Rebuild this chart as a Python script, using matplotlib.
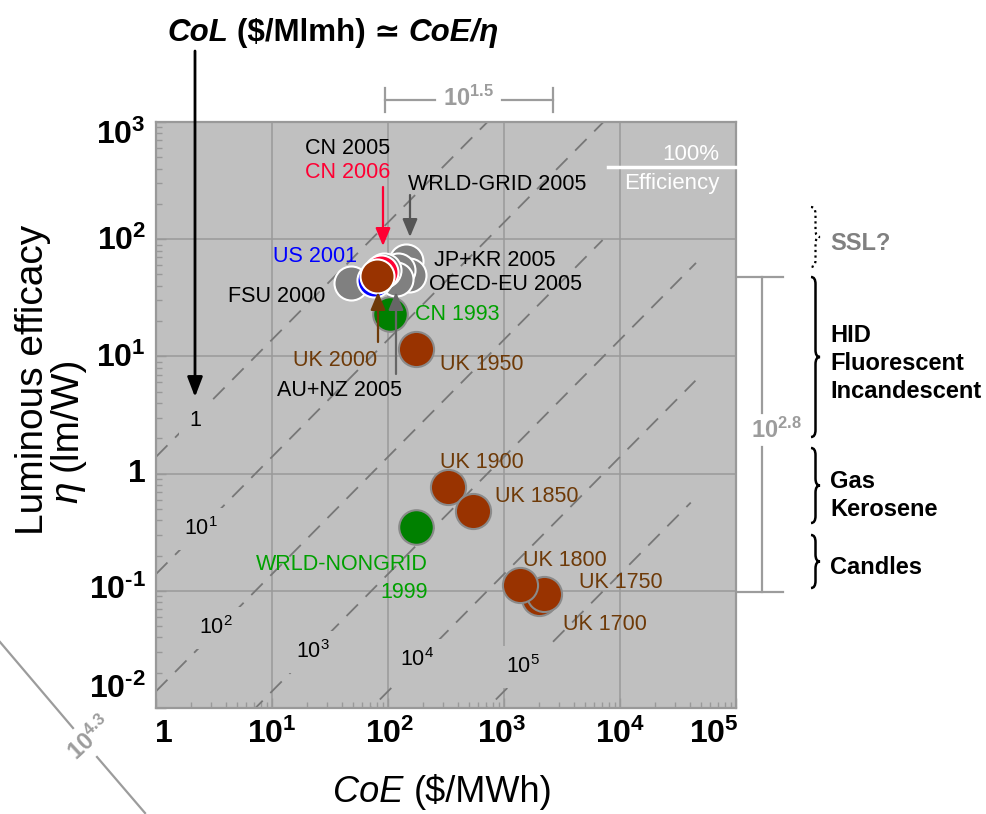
import numpy as np
import matplotlib
matplotlib.use("Agg")
import matplotlib.pyplot as plt
from matplotlib.path import Path
from matplotlib.patches import PathPatch
from matplotlib.transforms import ScaledTranslation, blended_transform_factory

plt.rcParams['font.family'] = ['Liberation Sans', 'DejaVu Sans']
plt.rcParams['mathtext.fontset'] = 'custom'
plt.rcParams['mathtext.rm'] = 'Liberation Sans'
plt.rcParams['mathtext.it'] = 'Liberation Sans:italic'
plt.rcParams['mathtext.bf'] = 'Liberation Sans:bold'

# ---------------- data ----------------
names = ['UK 1950', 'CN 1993', 'JP+KR 2005', 'OECD-EU 2005', 'WRLD-GRID 2005',
         'AU+NZ 2005', 'FSU 2000', 'CN 2005', 'CN 2006', 'US 2001', 'UK 2000',
         'UK 1900', 'UK 1850', 'WRLD-NONGRID 1999', 'UK 1700', 'UK 1750', 'UK 1800']
coe = [174, 104, 143, 153, 122, 117, 48, 92, 87, 75, 81,
       330, 541, 174, 1986, 2193, 1365]
eta = [11.6, 22.8, 64.7, 49.2, 54.6, 46.1, 42.6, 54.6, 52.0, 44.5, 48.6,
       0.766, 0.479, 0.351, 0.0867, 0.0944, 0.112]
groups = ['uk', 'green', 'grid', 'grid', 'grid', 'grid', 'grid', 'grid', 'red', 'blue', 'ukw',
          'uk', 'uk', 'green', 'uk', 'uk', 'uk']

col_levels = [0.72, 7.2, 72, 720, 7200, 72000]
col_texts = ['1', r'$10^{1}$', r'$10^{2}$', r'$10^{3}$', r'$10^{4}$', r'$10^{5}$']
col_line_xmax = [1e5, 1e5, 10**3.85, 10**4.655, 10**4.65, 10**4.61]

xticks = [1, 10, 100, 1e3, 1e4, 1e5]
xtick_labels = ['1', r'$\mathbf{10^{1}}$', r'$\mathbf{10^{2}}$', r'$\mathbf{10^{3}}$',
                r'$\mathbf{10^{4}}$', r'$\mathbf{10^{5}}$']
yticks = [1e3, 1e2, 10, 1, 0.1, 0.01]
ytick_labels = [r'$\mathbf{10^{3}}$', r'$\mathbf{10^{2}}$', r'$\mathbf{10^{1}}$', '1',
                '$\\mathbf{10^{\u2010 1}}$', '$\\mathbf{10^{\u2010 2}}$']

# ---------------- styles ----------------
BG = '#c0c0c0'
GRID = '#999999'
BROWN = '#993300'
BROWN_T = '#6e3a08'
GREEN = '#008000'
GREEN_T = '#00a000'
GRAY = '#808080'
BLUE = '#0000ff'
RED = '#ff0033'
ANN = '#9c9c9c'

style = {
    'uk': (BROWN, '#8a8a8a', 640),
    'ukw': (BROWN, 'white', 600),
    'green': (GREEN, '#8a8a8a', 620),
    'grid': (GRAY, 'white', 600),
    'red': (RED, 'white', 600),
    'blue': (BLUE, 'white', 600),
}

W, H = 986, 814
fig = plt.figure(figsize=(W / 100, H / 100), dpi=100)
fig.patch.set_facecolor('white')

L, R, T, B = 156, 736, 122, 708
ax = fig.add_axes([L / W, 1 - B / H, (R - L) / W, (B - T) / H])
ax.set_xscale('log')
ax.set_yscale('log')
ax.set_xlim(1, 10**4.99)
ax.set_ylim(10**-1.985, 10**2.975)
ax.set_facecolor(BG)
ax.set_axisbelow(True)
ax.grid(True, which='major', color=GRID, lw=1.1)
ax.set_xticks(xticks)
ax.set_yticks(yticks)
ax.tick_params(which='both', direction='in', colors=GRID, labelbottom=False,
               labelleft=False, top=False, right=False)
ax.tick_params(which='major', length=7, width=1)
ax.tick_params(which='minor', length=4, width=1)
for s in ax.spines.values():
    s.set_color(GRID)
    s.set_linewidth(1.6)

# CoL iso-lines
for c, xm in zip(col_levels, col_line_xmax):
    xs = np.array([1.0, xm])
    ax.plot(xs, xs / c, color='#777777', lw=1.3, dashes=(9, 6), zorder=1.5)

# data points
for i, (x, y, g) in enumerate(zip(coe, eta, groups)):
    fc, ec, sz = style[g]
    ax.scatter([x], [y], s=sz, c=fc, edgecolors=ec, linewidths=1.5, zorder=3 + i * 0.01)

# tick labels (through axes transforms)
tx = blended_transform_factory(ax.transData, ax.transAxes)
ty = blended_transform_factory(ax.transAxes, ax.transData)
x_off = [8, 0, 2, -2, 0, -22]
for v, s, dx in zip(xticks, xtick_labels, x_off):
    ax.text(v, 0, s, transform=tx + ScaledTranslation(dx / 100, -11 / 100, fig.dpi_scale_trans),
            ha='center', va='top', fontsize=23, fontweight='bold', clip_on=False)
y_off = [13, 2, 2, 0, 0, -19]
for v, s, dy in zip(yticks, ytick_labels, y_off):
    ax.text(0, v, s, transform=ty + ScaledTranslation(-10 / 100, -dy / 100, fig.dpi_scale_trans),
            ha='right', va='center', fontsize=23, fontweight='bold', clip_on=False)

# ---------------- overlay in pixel coordinates ----------------
ov = fig.add_axes([0, 0, 1, 1], zorder=5)
ov.set_xlim(0, W)
ov.set_ylim(H, 0)
ov.axis('off')
ov.patch.set_alpha(0)
renderer = fig.canvas.get_renderer()


def twidth(s, size, weight, st):
    t = ov.text(0, 0, s, fontsize=size, fontweight=weight, fontstyle=st)
    w = t.get_window_extent(renderer).width
    t.remove()
    return w


def pwidth(p, size):
    s, weight, st = p
    if s == ' ':
        return twidth('M M', size, weight, st) - twidth('MM', size, weight, st)
    return twidth(s, size, weight, st)


def mixed(xc, ybase, pieces, size, color='black', vertical=False):
    ws = [pwidth(p, size) for p in pieces]
    total = sum(ws)
    pos = -total / 2
    for (s, weight, st), w in zip(pieces, ws):
        if s != ' ':
            if vertical:
                ov.text(xc, ybase - pos, s, fontsize=size, fontweight=weight, fontstyle=st,
                        color=color, rotation=90, rotation_mode='anchor', ha='left', va='baseline')
            else:
                ov.text(xc + pos, ybase, s, fontsize=size, fontweight=weight, fontstyle=st,
                        color=color, ha='left', va='baseline')
        pos += w


# title
mixed(333, 41, [('CoL', 'bold', 'italic'), (' ', 'bold', 'normal'),
                ('(\\$/Mlmh) ≃', 'bold', 'normal'), (' ', 'bold', 'normal'),
                ('CoE/η', 'bold', 'italic')], 22.5)
# x label
mixed(443, 802, [('CoE', 'normal', 'italic'), (' ', 'normal', 'normal'),
                 ('(\\$/MWh)', 'normal', 'normal')], 26)
# y label
ov.text(43, 380, 'Luminous efficacy', fontsize=28, rotation=90, rotation_mode='anchor',
        ha='center', va='baseline')
mixed(77, 430, [('η', 'normal', 'italic'), (' ', 'normal', 'normal'),
                ('(lm/W)', 'normal', 'normal')], 28, vertical=True)

# big arrow from title
arrow_kw = dict(shrinkA=0, shrinkB=0)
ov.annotate('', xy=(195, 397), xytext=(195, 51),
            arrowprops=dict(arrowstyle='-|>,head_length=0.6,head_width=0.23', color='black',
                            lw=2, mutation_scale=20, **arrow_kw), zorder=10)

# small arrows
for (x, y0, y1, c) in [(383, 187, 246, RED), (410, 195, 237, '#555555'),
                       (378, 342, 292, '#6e3a08'), (396, 374, 292, '#666666')]:
    ov.annotate('', xy=(x, y1), xytext=(x, y0),
                arrowprops=dict(arrowstyle='-|>,head_length=0.6,head_width=0.25', color=c,
                                lw=1.6, mutation_scale=18, **arrow_kw), zorder=10)

# data labels
FS = 15.5
lab = [
    ('CN 2005', 305, 148, 'black', 'left'),
    ('CN 2006', 305, 173, RED, 'left'),
    ('WRLD-GRID 2005', 408, 185, 'black', 'left'),
    ('US 2001', 357, 257, BLUE, 'right'),
    ('FSU 2000', 228, 297, 'black', 'left'),
    ('JP+KR 2005', 434, 261, 'black', 'left'),
    ('OECD-EU 2005', 429, 285, 'black', 'left'),
    ('CN 1993', 415, 315, GREEN_T, 'left'),
    ('UK 1950', 440, 365, BROWN_T, 'left'),
    ('UK 2000', 293, 361, BROWN_T, 'left'),
    ('AU+NZ 2005', 277, 390, 'black', 'left'),
    ('UK 1900', 440, 462, BROWN_T, 'left'),
    ('UK 1850', 495, 497, BROWN_T, 'left'),
    ('UK 1800', 523, 560, BROWN_T, 'left'),
    ('UK 1750', 579, 583, BROWN_T, 'left'),
    ('UK 1700', 563, 624, BROWN_T, 'left'),
    ('WRLD-NONGRID', 428, 565, GREEN_T, 'right'),
    ('1999', 428, 592, GREEN_T, 'right'),
]
for s, x, y, c, ha in lab:
    ov.text(x, y, s, fontsize=FS, color=c, ha=ha, va='center')

# CoL labels
col_pos = [(195, 420), (201, 529), (216, 628), (313, 652), (417, 660), (523, 667)]
for s, (x, y) in zip(col_texts, col_pos):
    ov.text(x, y, s, fontsize=FS, ha='center', va='center', color='black',
            bbox=dict(boxstyle='square,pad=0.45', fc=BG, ec='none'))

# 100% efficiency
ov.plot([608, 736], [167, 167], color='white', lw=2.5)
ov.text(719, 155, '100%', fontsize=16, color='white', ha='right', va='center')
ov.text(720, 184, 'Efficiency', fontsize=16, color='white', ha='right', va='center')

# 10^1.5 bracket on top
ov.plot([385, 435], [100, 100], color=ANN, lw=1.6)
ov.plot([502, 553], [100, 100], color=ANN, lw=1.6)
ov.plot([385, 385], [88, 112], color=ANN, lw=1.6)
ov.plot([553, 553], [88, 112], color=ANN, lw=1.6)
ov.text(469, 98, r'$\mathbf{10^{1.5}}$', fontsize=17, color=ANN, ha='center', va='center')

# 10^2.8 bracket on right
ov.plot([762, 762], [277, 413], color=ANN, lw=1.6)
ov.plot([762, 762], [447, 592], color=ANN, lw=1.6)
ov.plot([738, 783], [277, 277], color=ANN, lw=1.6)
ov.plot([738, 783], [592, 592], color=ANN, lw=1.6)
ov.text(776, 430, r'$\mathbf{10^{2.8}}$', fontsize=17, color=ANN, ha='center', va='center')

# 10^4.3 diagonal bottom-left
ov.plot([0, 73], [642, 728], color=ANN, lw=1.6, clip_on=False)
ov.plot([97, 145], [757, 813], color=ANN, lw=1.6, clip_on=False)
ov.text(90, 739, r'$\mathbf{10^{4.3}}$', fontsize=17, color=ANN, ha='center', va='center',
        rotation=43, rotation_mode='anchor')


# braces
def brace(x, y0, y1, w=9, r=7, **kw):
    xm = x + w * 0.5
    ym = (y0 + y1) / 2
    verts = [(x, y0), (xm, y0), (xm, y0 + r), (xm, ym - r), (xm, ym), (x + w, ym),
             (xm, ym), (xm, ym + r), (xm, y1 - r), (xm, y1), (x, y1)]
    codes = [Path.MOVETO, Path.CURVE3, Path.CURVE3, Path.LINETO, Path.CURVE3, Path.CURVE3,
             Path.CURVE3, Path.CURVE3, Path.LINETO, Path.CURVE3, Path.CURVE3]
    ov.add_patch(PathPatch(Path(verts, codes), fill=False, **kw))


brace(811, 207, 267, color='black', lw=1.6, ls=(0, (1, 1.5)))
brace(811, 277, 437, color='black', lw=1.8)
brace(811, 448, 523, color='black', lw=1.8)
brace(811, 535, 588, color='black', lw=1.8)

RFS = 17
ov.text(830, 243, 'SSL?', fontsize=RFS, fontweight='bold', color='#808080', va='center')
for s, y in [('HID', 335), ('Fluorescent', 364), ('Incandescent', 392),
             ('Gas', 482), ('Kerosene', 510), ('Candles', 568)]:
    ov.text(830, y, s, fontsize=RFS, fontweight='bold', color='black', va='center')

fig.savefig('out.png', dpi=100, facecolor='white')
